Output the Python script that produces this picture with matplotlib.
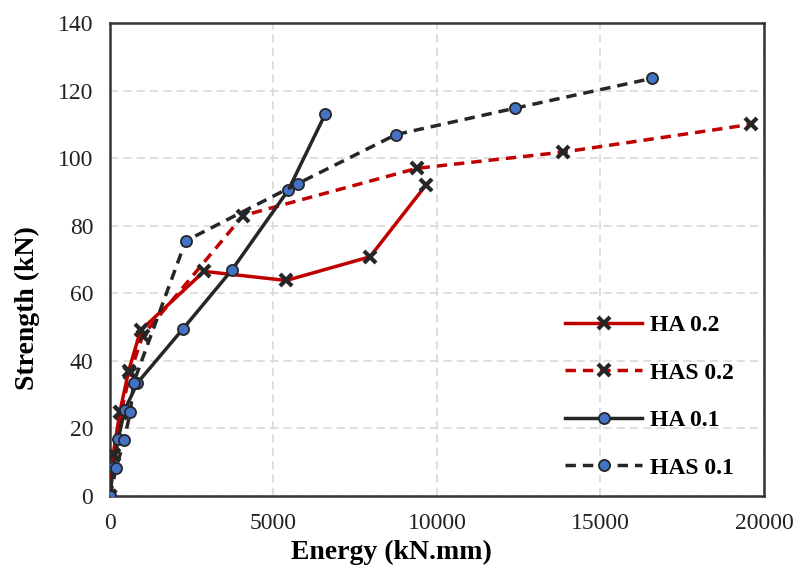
import numpy as np
import matplotlib.pyplot as plt

plt.rcParams['font.family'] = ['Liberation Serif', 'DejaVu Serif']

# data
ha02_x = [0, 100, 305, 570, 935, 2875, 5390, 7950, 9660]
ha02_y = [0, 12.5, 25, 37, 49, 66.5, 63.8, 70.8, 92]

has02_x = [0, 130, 330, 620, 1000, 4070, 9390, 13860, 19600]
has02_y = [0, 12, 24.5, 36.5, 47.5, 83, 97, 101.8, 110]

ha01_x = [0, 100, 250, 450, 840, 2235, 3735, 5450, 6580]
ha01_y = [0, 8.5, 16.8, 25.5, 33.5, 49.5, 67, 90.5, 113]

has01_x = [0, 190, 430, 620, 720, 2315, 5750, 8750, 12390, 16570]
has01_y = [0, 8.3, 16.5, 24.8, 33.5, 75.5, 92.5, 107, 114.8, 123.6]

fig = plt.figure(figsize=(7.93, 5.7), dpi=100)
ax = fig.add_axes([0.1387, 0.1298, 0.8247, 0.8298])

red = '#c00000'
blk = '#262626'
blue = '#4472c4'

ax.plot(ha02_x, ha02_y, color=red, lw=2.5, ls='-', marker='x', ms=8, mew=3,
        mec=blk, label='HA 0.2', zorder=4)
ax.plot(has02_x, has02_y, color=red, lw=2.5, ls=(0, (3, 2)), marker='x', ms=8, mew=3,
        mec=blk, label='HAS 0.2', zorder=3)
ax.plot(ha01_x, ha01_y, color=blk, lw=2.5, ls='-', marker='o', ms=8, mew=1.3,
        mfc=blue, mec=blk, label='HA 0.1', zorder=5)
ax.plot(has01_x, has01_y, color=blk, lw=2.5, ls=(0, (3, 2)), marker='o', ms=8, mew=1.3,
        mfc=blue, mec=blk, label='HAS 0.1', zorder=5)

ax.set_xlim(0, 20000)
ax.set_ylim(0, 140)
ax.set_xticks(np.arange(0, 20001, 5000))
ax.set_yticks(np.arange(0, 141, 20))
ax.grid(True, color='#d9d9d9', ls=(0, (5, 3)), lw=1.2)
ax.set_axisbelow(True)
ax.tick_params(length=0, labelsize=17, colors='#222222')
ax.tick_params(axis='x', pad=12)
ax.tick_params(axis='y', pad=12)
for s in ax.spines.values():
    s.set_color('#333333')
    s.set_linewidth(1.8)

ax.set_xlabel('Energy (kN.mm)', fontsize=20, fontweight='bold')
ax.set_ylabel('Strength (kN)', fontsize=20, fontweight='bold')
ax.xaxis.set_label_coords(0.43, -0.12)
ax.yaxis.set_label_coords(-0.127, 0.397)
ax.xaxis.label.set_va('center')
ax.yaxis.label.set_va('center')

leg = ax.legend(loc='center left', bbox_to_anchor=(0.696, 0.21), frameon=False,
                labelspacing=1.1, handlelength=3.25, handletextpad=0.36,
                borderpad=0, borderaxespad=0, prop={'weight': 'bold', 'size': 17})

fig.savefig('out.png', dpi=100)
